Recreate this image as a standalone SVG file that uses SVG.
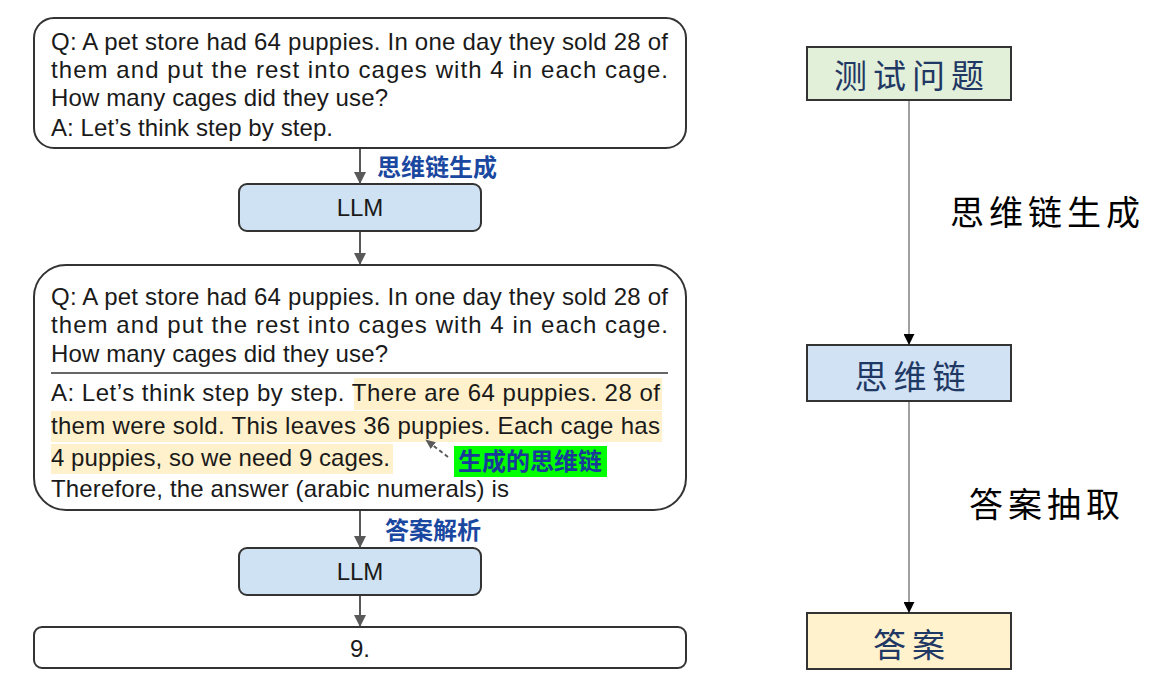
<svg xmlns="http://www.w3.org/2000/svg" width="1157" height="687" viewBox="0 0 1157 687">
<defs>
<style>
.en{font-family:"Liberation Sans",Arial,sans-serif;font-size:24px;fill:#1a1a1a}
.box{fill:#fff;stroke:#333;stroke-width:2}
.llm{fill:#cfe2f3;stroke:#333;stroke-width:2}
.blue{font-family:"Noto Sans CJK SC",sans-serif;font-size:24px;font-weight:bold;fill:#1a48a0}
.rbox{stroke:#333;stroke-width:2}
.rtxt{font-family:"Noto Sans CJK SC",sans-serif;font-size:33px;fill:#1f3864;letter-spacing:6px}
.rlab{font-family:"Noto Sans CJK SC",sans-serif;font-size:34px;fill:#000;letter-spacing:5px}
.hl{fill:#fff1cc}
.conn{stroke:#595959;stroke-width:2;fill:none}
.rconn{stroke:#808080;stroke-width:1.5;fill:none}
</style>
<marker id="ag" viewBox="0 0 12 12" refX="11" refY="6" markerWidth="12" markerHeight="12" markerUnits="userSpaceOnUse" orient="auto">
<path d="M0,0 L12,6 L0,12 z" fill="#595959"/>
</marker>
<marker id="ab" viewBox="0 0 12 12" refX="11" refY="6" markerWidth="11" markerHeight="11" markerUnits="userSpaceOnUse" orient="auto">
<path d="M0,0 L12,6 L0,12 z" fill="#000"/>
</marker>
<marker id="ad" viewBox="0 0 12 12" refX="11" refY="6" markerWidth="10" markerHeight="10" markerUnits="userSpaceOnUse" orient="auto">
<path d="M0,1 L12,6 L0,11 z" fill="#595959"/>
</marker>
</defs>
<rect width="1157" height="687" fill="#fff"/>

<g id="question1">
<rect class="box" x="34" y="18" width="652" height="130" rx="20"/>
<text class="en" x="51" y="50" textLength="617" lengthAdjust="spacing">Q: A pet store had 64 puppies. In one day they sold 28 of</text>
<text class="en" x="51" y="78" textLength="617" lengthAdjust="spacing">them and put the rest into cages with 4 in each cage.</text>
<text class="en" x="51" y="106" textLength="337" lengthAdjust="spacing">How many cages did they use?</text>
<text class="en" x="51" y="136" textLength="282" lengthAdjust="spacing">A: Let’s think step by step.</text>
</g>

<g id="llm1">
<rect class="llm" x="239" y="184" width="242" height="47" rx="8"/>
<text class="en" x="360" y="216" text-anchor="middle">LLM</text>
</g>

<g id="question2">
<rect class="box" x="34" y="265" width="652" height="245" rx="32"/>
<rect class="hl" x="354" y="378" width="308" height="32"/>
<rect class="hl" x="51" y="411" width="611" height="31"/>
<rect class="hl" x="51" y="444" width="342" height="30"/>
<text class="en" x="51" y="305" textLength="617" lengthAdjust="spacing">Q: A pet store had 64 puppies. In one day they sold 28 of</text>
<text class="en" x="51" y="333" textLength="617" lengthAdjust="spacing">them and put the rest into cages with 4 in each cage.</text>
<text class="en" x="51" y="362" textLength="337" lengthAdjust="spacing">How many cages did they use?</text>
<line x1="51" y1="373" x2="668" y2="373" stroke="#666" stroke-width="2"/>
<text class="en" x="51" y="401" textLength="609" lengthAdjust="spacing">A: Let’s think step by step. There are 64 puppies. 28 of</text>
<text class="en" x="51" y="434" textLength="609" lengthAdjust="spacing">them were sold. This leaves 36 puppies. Each cage has</text>
<text class="en" x="51" y="466" textLength="339" lengthAdjust="spacing">4 puppies, so we need 9 cages.</text>
<text class="en" x="51" y="497" textLength="458" lengthAdjust="spacing">Therefore, the answer (arabic numerals) is</text>
</g>

<g id="cot-label">
<rect x="454" y="446" width="153" height="31" fill="#00ff00"/>
<text class="blue" x="530" y="470" text-anchor="middle" style="fill:#1a3a9a">生成的思维链</text>
</g>

<g id="llm2">
<rect class="llm" x="239" y="548" width="242" height="47" rx="8"/>
<text class="en" x="360" y="580" text-anchor="middle">LLM</text>
</g>

<g id="answer">
<rect class="box" x="34" y="627" width="652" height="41" rx="8"/>
<text class="en" x="360" y="657" text-anchor="middle">9.</text>
</g>

<g id="r-question">
<rect class="rbox" x="807" y="47" width="204" height="53" fill="#e2efd9"/>
<text class="rtxt" x="912" y="88" text-anchor="middle">测试问题</text>
</g>
<g id="r-cot">
<rect class="rbox" x="807" y="345" width="204" height="56" fill="#d0e2f4"/>
<text class="rtxt" x="913" y="389" text-anchor="middle">思维链</text>
</g>
<g id="r-answer">
<rect class="rbox" x="807" y="613" width="204" height="56" fill="#fff2cc"/>
<text class="rtxt" x="912" y="657" text-anchor="middle">答案</text>
</g>

<g id="connectors">
<line class="conn" x1="360" y1="149" x2="360" y2="183" marker-end="url(#ag)"/>
<line class="conn" x1="360" y1="232" x2="360" y2="264" marker-end="url(#ag)"/>
<line class="conn" x1="360" y1="511" x2="360" y2="547" marker-end="url(#ag)"/>
<line class="conn" x1="360" y1="596" x2="360" y2="626" marker-end="url(#ag)"/>
<path d="M448,457 L426,440" stroke="#595959" stroke-width="2" stroke-dasharray="4,3" fill="none" marker-end="url(#ad)"/>
<line class="rconn" x1="909" y1="101" x2="909" y2="344" marker-end="url(#ab)"/>
<line class="rconn" x1="909" y1="402" x2="909" y2="612" marker-end="url(#ab)"/>
<text class="blue" x="377" y="176">思维链生成</text>
<text class="blue" x="385" y="539">答案解析</text>
<text class="rlab" x="950" y="225">思维链生成</text>
<text class="rlab" x="969" y="517">答案抽取</text>
</g>
</svg>
